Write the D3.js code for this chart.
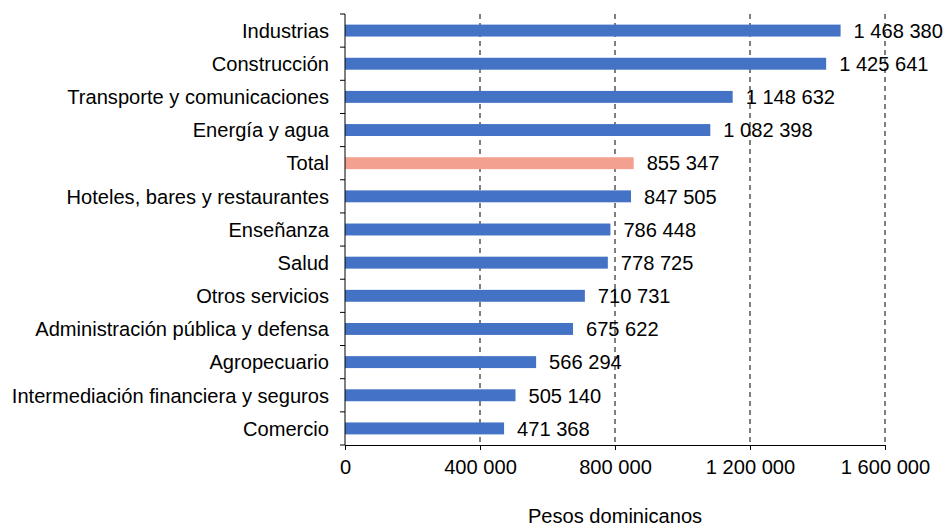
<!DOCTYPE html>
<html>
<head>
<meta charset="utf-8">
<script src="https://cdn.jsdelivr.net/npm/d3@7"></script>
<style>
  body { margin: 0; background: #fff; }
  text { font-family: "Liberation Sans", Arial, sans-serif; fill: #000; }
</style>
</head>
<body>
<div id="chart"></div>
<script>
// categories and values (pesos dominicanos)
var categories = ["Industrias", "Construcción", "Transporte y comunicaciones", "Energía y agua", "Total",
  "Hoteles, bares y restaurantes", "Enseñanza", "Salud", "Otros servicios", "Administración pública y defensa",
  "Agropecuario", "Intermediación financiera y seguros", "Comercio"];
var values = [1468380, 1425641, 1148632, 1082398, 855347, 847505, 786448, 778725, 710731, 675622, 566294, 505140, 471368];
var xTicks = [0, 400000, 800000, 1200000, 1600000];
var highlight = "Total";

var W = 945, H = 526;
var margin = {top: 14, right: 60, bottom: 81, left: 345};
var width = W - margin.left - margin.right;
var height = H - margin.top - margin.bottom;
var fs = 20.1;

var fmt = d => d3.format(",")(d).replace(/,/g, " ");

var svg = d3.select("#chart").append("svg").attr("width", W).attr("height", H)
  .append("g").attr("transform", "translate(" + margin.left + "," + margin.top + ")");

var x = d3.scaleLinear().domain([0, 1600000]).range([0, width]);
var y = d3.scaleBand().domain(categories).range([0, height]).paddingInner(0.64).paddingOuter(0.32);

// dashed gridlines
svg.selectAll(".grid").data(xTicks.slice(1)).join("line").attr("class", "grid")
  .attr("x1", d => x(d)).attr("x2", d => x(d)).attr("y1", 0).attr("y2", height)
  .attr("stroke", "#000").attr("stroke-width", 1).attr("stroke-dasharray", "5,4");

// bars
svg.selectAll(".bar").data(categories).join("rect").attr("class", "bar")
  .attr("x", 0).attr("y", d => y(d)).attr("height", y.bandwidth())
  .attr("width", (d, i) => x(values[i]))
  .attr("fill", d => d == highlight ? "#F4A090" : "#4472C4");

// value labels
svg.selectAll(".val").data(categories).join("text").attr("class", "val")
  .attr("x", (d, i) => x(values[i]) + 13).attr("y", d => y(d) + y.bandwidth() / 2)
  .attr("dy", "0.36em").attr("font-size", fs).text((d, i) => fmt(values[i]));

// y axis: line + ticks at band boundaries
svg.append("line").attr("x1", 0).attr("x2", 0).attr("y1", 0).attr("y2", height).attr("stroke", "#000");
svg.selectAll(".ytick").data(d3.range(categories.length + 1)).join("line").attr("class", "ytick")
  .attr("x1", -5).attr("x2", 0).attr("y1", i => i * height / categories.length).attr("y2", i => i * height / categories.length)
  .attr("stroke", "#000");
svg.selectAll(".ylab").data(categories).join("text").attr("class", "ylab")
  .attr("x", -16).attr("y", d => y(d) + y.bandwidth() / 2).attr("dy", "0.36em")
  .attr("text-anchor", "end").attr("font-size", fs).text(d => d);

// x axis
var xAxis = svg.append("g").attr("transform", "translate(0," + height + ")")
  .call(d3.axisBottom(x).tickValues(xTicks).tickFormat(fmt).tickSize(5).tickPadding(10));
xAxis.select(".domain").attr("stroke", "#000");
xAxis.selectAll(".tick line").attr("stroke", "#000");
xAxis.selectAll("text").attr("font-size", fs).attr("font-family", "Liberation Sans, Arial, sans-serif");

svg.append("text").attr("x", width / 2).attr("y", height + 78).attr("text-anchor", "middle")
  .attr("font-size", fs).text("Pesos dominicanos");
</script>
</body>
</html>
